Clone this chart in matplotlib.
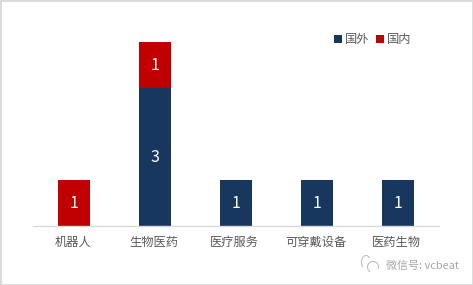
import matplotlib
matplotlib.use('Agg')
import matplotlib.pyplot as plt
from matplotlib.patches import Arc, Rectangle
from matplotlib.transforms import ScaledTranslation

plt.rcParams['font.family'] = ['Noto Sans CJK SC', 'DejaVu Sans']

# ── data ─────────────────────────────────────────────
categories = ['机器人', '生物医药', '医疗服务', '可穿戴设备', '医药生物']
foreign    = [0, 3, 1, 1, 1]   # 国外
domestic   = [1, 1, 0, 0, 0]   # 国内

NAVY = '#17375E'
RED  = '#C00000'
GREY = '#595959'

W, H = 473, 285
fig = plt.figure(figsize=(W / 100, H / 100), dpi=100, facecolor='white')

# axes box in pixels: left 33.5, right 438.5, baseline 226, top 42
ax = fig.add_axes([33.5 / W, (H - 226) / H, 405 / W, 184 / H])
x = range(len(categories))
b1 = ax.bar(x, foreign, width=0.395, color=NAVY, label='国外')
b2 = ax.bar(x, domestic, width=0.395, bottom=foreign, color=RED, label='国内')

ax.set_xlim(-0.5, 4.5)
ax.set_ylim(0, 4)
ax.set_yticks([])
ax.set_xticks(list(x))
ax.set_xticklabels(categories, fontsize=8.8, color=GREY)
ax.tick_params(axis='x', length=0, pad=7)
# labels sit about a pixel left of the bar centres
shift = ScaledTranslation(-1.2 / 100, 0, fig.dpi_scale_trans)
for lab in ax.get_xticklabels():
    lab.set_transform(lab.get_transform() + shift)
for s in ['top', 'left', 'right']:
    ax.spines[s].set_visible(False)
ax.spines['bottom'].set_color('#D9D9D9')
ax.spines['bottom'].set_linewidth(1.0)

# value labels
for i in x:
    if foreign[i]:
        ax.text(i, foreign[i] / 2, str(foreign[i]), color='white', fontsize=11.5,
                ha='center', va='center')
    if domestic[i]:
        ax.text(i, foreign[i] + domestic[i] / 2, str(domestic[i]), color='white',
                fontsize=11.5, ha='center', va='center')

leg = ax.legend(handles=[b1, b2], ncol=2, frameon=False, fontsize=8.8,
                labelcolor=GREY, loc='center left',
                bbox_to_anchor=((334 - 33.5) / 405, (226 - 39.5) / 184),
                bbox_transform=ax.transAxes, borderpad=0, borderaxespad=0,
                handlelength=0.66, handleheight=0.66, handletextpad=0.25,
                columnspacing=0.5)

# watermark
fig.text(386 / W, (H - 265.5) / H, '微信号: vcbeat', fontsize=7.9, color='#A6A6A6',
         ha='left', va='center')
fig.add_artist(Arc((373 / W, (H - 267) / H), 11 / W, 11 / H, theta1=-30, theta2=250,
                   color='#BFBFBF', lw=0.8, transform=fig.transFigure))
fig.add_artist(Arc((366 / W, (H - 262) / H), 9 / W, 13 / H, theta1=60, theta2=250,
                   color='#BFBFBF', lw=0.8, transform=fig.transFigure))

# outer frame of the image
fig.add_artist(Rectangle((0, 0), 1, 1, fill=False, ec='#D9D9D9', lw=2,
                         transform=fig.transFigure))

fig.savefig('out.png', dpi=100)
